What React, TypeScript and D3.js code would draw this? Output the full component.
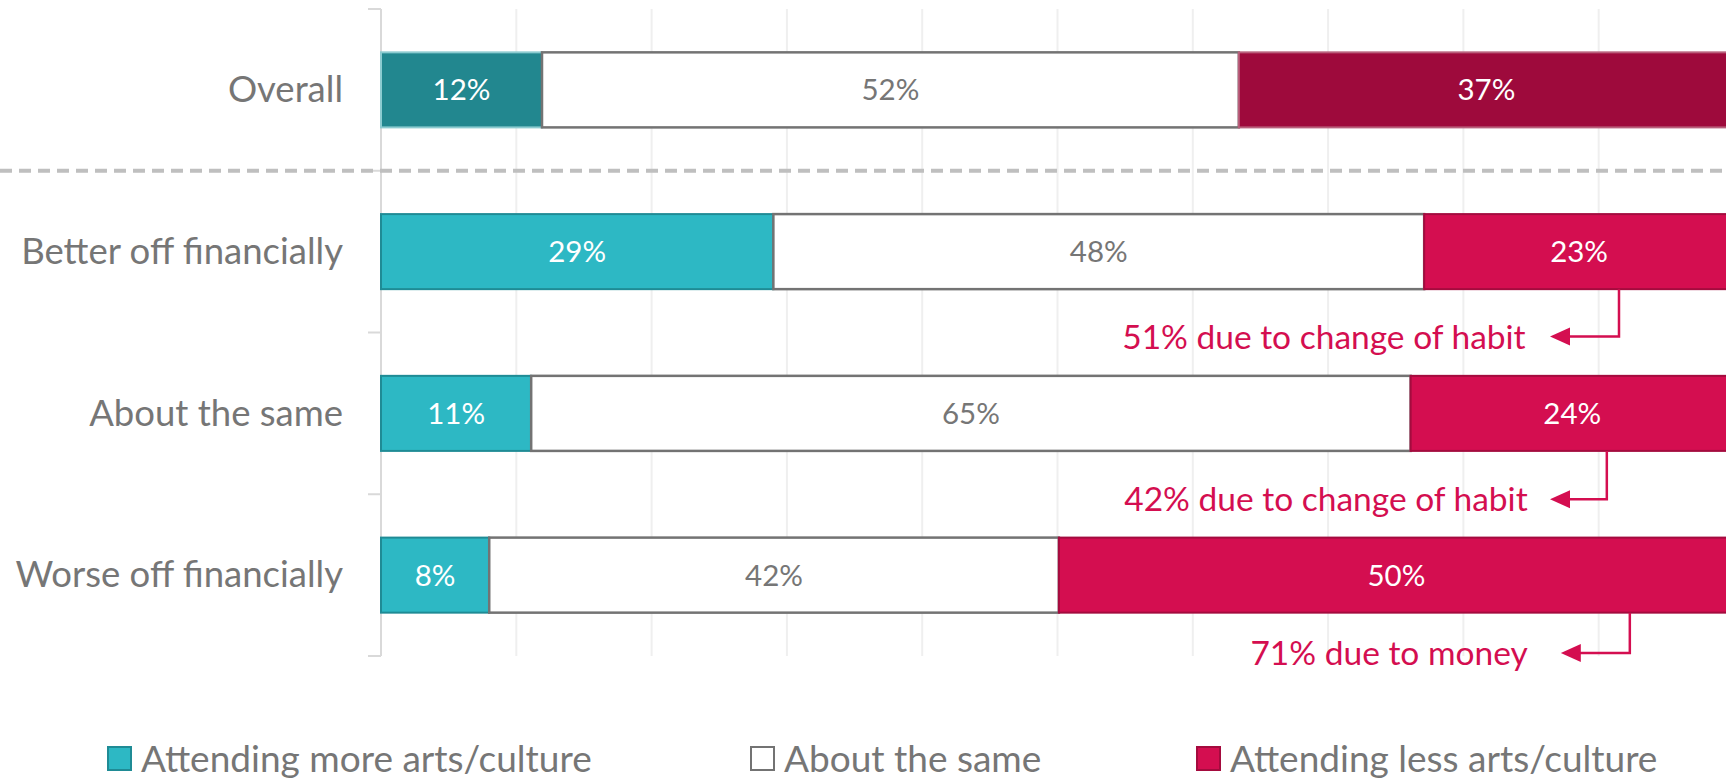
import React from "react";
import * as d3 from "d3";

const categories = ["Overall", "Better off financially", "About the same", "Worse off financially"];
const moreValues = [11.9, 29.0, 11.1, 8.0];
const sameValues = [51.5, 48.1, 65.0, 42.1];
const lessValues = [36.6, 22.9, 23.9, 49.9];
const seriesNames = ["Attending more arts/culture", "About the same", "Attending less arts/culture"];
const gridTicks = [10, 20, 30, 40, 50, 60, 70, 80, 90, 100];

const annotationCategory = [1, 2, 3];
const annotationTexts = ["51% due to change of habit", "42% due to change of habit", "71% due to money"];
const annotationStemX = [91.5, 90.6, 92.3];
const annotationTipX = [86.4, 86.4, 87.2];
const annotationTextX = [84.6, 84.75, 84.75];

const W = 1726;
const H = 779;
const FONT = "Lato, 'Open Sans', sans-serif";

export default function App() {
  const x = d3.scaleLinear().domain([0, 100]).range([381, 1734]);
  const y = d3
    .scaleBand<string>()
    .domain(categories)
    .range([9, 656])
    .paddingInner(0.536)
    .paddingOuter(0.268);
  const bw = y.bandwidth();
  const step = y.step();

  const rows = categories.map((c, i) => {
    const stack = [moreValues[i], sameValues[i], lessValues[i]];
    let acc = 0;
    return stack.map((v, k) => {
      const s = { x0: acc, x1: acc + v, v, k, cat: c, i };
      acc += v;
      return s;
    });
  });

  const fillFor = (k: number, i: number) => {
    if (k === 1) return "#ffffff";
    if (k === 0) return i === 0 ? "#22878F" : "#2DB8C4";
    return i === 0 ? "#9E0A3C" : "#D40E50";
  };
  const strokeFor = (k: number, i: number) => {
    if (k === 1) return "#737373";
    if (k === 0) return i === 0 ? "#8ccbd0" : "#1F8B95";
    return i === 0 ? "#b9607c" : "#A40B3E";
  };

  const boundaries = d3.range(categories.length + 1).map((j) => 9 + j * step);
  const dashY = (y(categories[0])! + bw + y(categories[1])!) / 2;
  const annotOffsets = [4, 5, -3];

  const legendSquareX = [108, 751, 1197];
  const red = "#D40E50";

  return (
    <svg
      width={W}
      height={H}
      style={{ position: "absolute", left: 0, top: 0, background: "#fff" }}
      fontFamily={FONT}
    >
      {/* gridlines */}
      {gridTicks.map((t) => (
        <line key={t} x1={x(t)} x2={x(t)} y1={9} y2={656} stroke="#EFEFEF" strokeWidth={2} />
      ))}
      {/* y axis */}
      <line x1={381} x2={381} y1={9} y2={656} stroke="#D9D9D9" strokeWidth={2} />
      {boundaries.map((b, j) => (
        <line key={j} x1={368} x2={381} y1={b} y2={b} stroke="#D9D9D9" strokeWidth={2} />
      ))}
      {/* dashed separator */}
      <line x1={0} x2={W} y1={dashY} y2={dashY} stroke="#BFBFBF" strokeWidth={4} strokeDasharray="12 7" />

      {/* bars */}
      {rows.map((segs, i) =>
        segs.map((s) => (
          <rect
            key={`${i}-${s.k}`}
            x={x(s.x0)}
            y={y(s.cat)!}
            width={x(s.x1) - x(s.x0)}
            height={bw}
            fill={fillFor(s.k, i)}
            stroke={strokeFor(s.k, i)}
            strokeWidth={s.k === 1 ? 2.5 : 2}
          />
        ))
      )}
      {/* value labels */}
      {rows.map((segs, i) =>
        segs.map((s) => (
          <text
            key={`l${i}-${s.k}`}
            x={(x(s.x0) + x(s.x1)) / 2}
            y={y(s.cat)! + bw / 2}
            dy="0.36em"
            textAnchor="middle"
            fontSize={29.5}
            fill={s.k === 1 ? "#767676" : "#ffffff"}
          >
            {Math.round(s.v)}%
          </text>
        ))
      )}
      {/* category labels */}
      {categories.map((c) => (
        <text
          key={c}
          x={343}
          y={y(c)! + bw / 2 - 1}
          dy="0.36em"
          textAnchor="end"
          fontSize={36.5}
          fill="#767676"
        >
          {c}
        </text>
      ))}
      {/* annotations */}
      {annotationTexts.map((t, j) => {
        const cat = categories[annotationCategory[j]];
        const top = y(cat)! + bw;
        const ay = boundaries[annotationCategory[j] + 1] + annotOffsets[j];
        const sx = x(annotationStemX[j]);
        const tx = x(annotationTipX[j]);
        return (
          <g key={t}>
            <polyline
              points={`${sx},${top} ${sx},${ay} ${tx + 18},${ay}`}
              fill="none"
              stroke={red}
              strokeWidth={2.5}
            />
            <path d={`M${tx},${ay} L${tx + 20},${ay - 9} L${tx + 20},${ay + 9} Z`} fill={red} />
            <text x={x(annotationTextX[j])} y={ay} dy="0.36em" textAnchor="end" fontSize={33.5} fill={red}>
              {t}
            </text>
          </g>
        );
      })}
      {/* legend */}
      {seriesNames.map((n, k) => (
        <g key={n}>
          <rect
            x={legendSquareX[k]}
            y={747}
            width={23}
            height={23}
            fill={fillFor(k, 1)}
            stroke={k === 1 ? "#737373" : strokeFor(k, 1)}
            strokeWidth={2}
          />
          <text x={legendSquareX[k] + 33} y={759} dy="0.36em" fontSize={37} fill="#767676">
            {n}
          </text>
        </g>
      ))}
    </svg>
  );
}
